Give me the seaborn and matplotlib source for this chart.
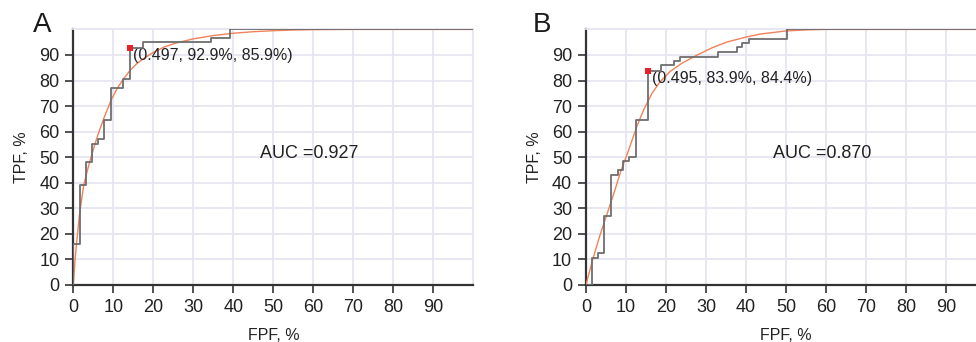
import matplotlib
matplotlib.use("Agg")
import matplotlib.pyplot as plt
import seaborn as sns

# panel A - empirical ROC (step) and fitted curve
fpf_a = [0, 0, 1.75, 3.25, 4.6, 6.1, 7.7, 9.5, 12.5, 14.1, 17.3, 34.5, 39.2, 100]
tpf_a = [0, 16, 39.2, 48, 55.2, 57, 64.4, 77, 80.5, 92.9, 94.9, 96.5, 100, 100]
fit_fpf_a = [0, 0.4, 0.8, 1.5, 2.6, 3.8, 5, 6.2, 7.7, 9.5, 11, 12.5, 14.2, 15.8, 17.5,
             20, 23, 26, 30, 35, 40, 45, 50, 55, 60, 70, 80, 90, 100]
fit_tpf_a = [0, 9, 16, 27, 39, 46.5, 53, 59, 65.5, 72.5, 77, 80.5, 84, 86.5, 88.5,
             91, 93.3, 94.8, 96.3, 97.6, 98.5, 99.1, 99.5, 99.75, 99.9, 100, 100, 100, 100]
cut_a = (14.1, 92.9)
label_a = "(0.497, 92.9%, 85.9%)"
auc_a = "AUC =0.927"

# panel B
fpf_b = [0, 1.6, 3.1, 4.6, 6.2, 7.9, 9.35, 10.85, 12.45, 15.6, 18.7, 21.9, 23.5,
         32.9, 37.8, 38.9, 40.7, 50.3, 100]
tpf_b = [0, 10.6, 12.4, 26.8, 43.1, 44.8, 48.5, 50, 64.4, 83.9, 85.9, 87.6, 89.3,
         91.2, 93.0, 94.7, 96.3, 100, 100]
fit_fpf_b = [0, 1.6, 3.5, 5.2, 7, 8.7, 10.6, 12.7, 14.4, 16.5, 18.5, 21, 24, 27.7,
             31.5, 35.3, 40, 43.6, 50, 55, 60, 70, 80, 90, 100]
fit_tpf_b = [0, 9.5, 19.5, 27.5, 36, 44.5, 52.5, 62, 68.5, 75, 79.5, 83.5, 86.8, 89.9,
             92.8, 95.1, 97, 98.2, 99.4, 99.8, 100, 100, 100, 100, 100]
cut_b = (15.6, 83.9)
label_b = "(0.495, 83.9%, 84.4%)"
auc_b = "AUC =0.870"

sns.set_theme(style="whitegrid")
plt.rcParams["font.family"] = ["Liberation Sans", "DejaVu Sans"]

grid_col = "#e6e6f2"
fig = plt.figure(figsize=(9.76, 3.42), dpi=100)
ax_a = fig.add_axes([0.0751, 0.167, 0.410, 0.747])
ax_b = fig.add_axes([0.6004, 0.167, 0.410, 0.747])

panels = [
    (ax_a, "A", 0.034, fpf_a, tpf_a, fit_fpf_a, fit_tpf_a, cut_a, label_a, auc_a),
    (ax_b, "B", 0.546, fpf_b, tpf_b, fit_fpf_b, fit_tpf_b, cut_b, label_b, auc_b),
]

for ax, letter, lx, fx, fy, gx, gy, cut, lab, auc in panels:
    sns.lineplot(x=gx, y=gy, ax=ax, color="#f0825a", lw=1.0,
                 estimator=None, sort=False, zorder=3)
    sns.lineplot(x=fx, y=fy, ax=ax, color="#6e6e6e", lw=1.3,
                 estimator=None, sort=False, drawstyle="steps-post", zorder=4)
    sns.scatterplot(x=[cut[0]], y=[cut[1]], ax=ax, color="#e8202a", marker="s",
                    s=14, linewidth=0, zorder=5)
    ax.text(cut[0] + 0.8, cut[1] - 3.2, lab, fontsize=11.5, color="#222222",
            ha="left", va="center")
    ax.text(59, 51.5, auc, fontsize=13, color="#222222", ha="center", va="center")

    ax.set_xlim(0, 100)
    ax.set_ylim(0, 100)
    ax.set_xticks(range(0, 100, 10))
    ax.set_yticks(range(0, 100, 10))
    ax.grid(True, color=grid_col, lw=1.3)
    ax.set_axisbelow(True)
    for side in ["top", "right"]:
        ax.spines[side].set_color(grid_col)
        ax.spines[side].set_linewidth(1.3)
    for side in ["left", "bottom"]:
        ax.spines[side].set_color("#333333")
        ax.spines[side].set_linewidth(1.6)
    ax.tick_params(axis="both", which="major", direction="out", length=6,
                   width=1.2, color="#333333", labelsize=13,
                   labelcolor="#222222", left=True, bottom=True, pad=4)
    ax.set_xlabel("FPF, %", fontsize=11.5, color="#222222", labelpad=9)
    ax.set_ylabel("TPF, %", fontsize=11.5, color="#222222", labelpad=7)
    fig.text(lx, 0.906, letter, fontsize=20, color="#1a1a1a",
             ha="left", va="baseline")

fig.savefig("out.png", dpi=100)
